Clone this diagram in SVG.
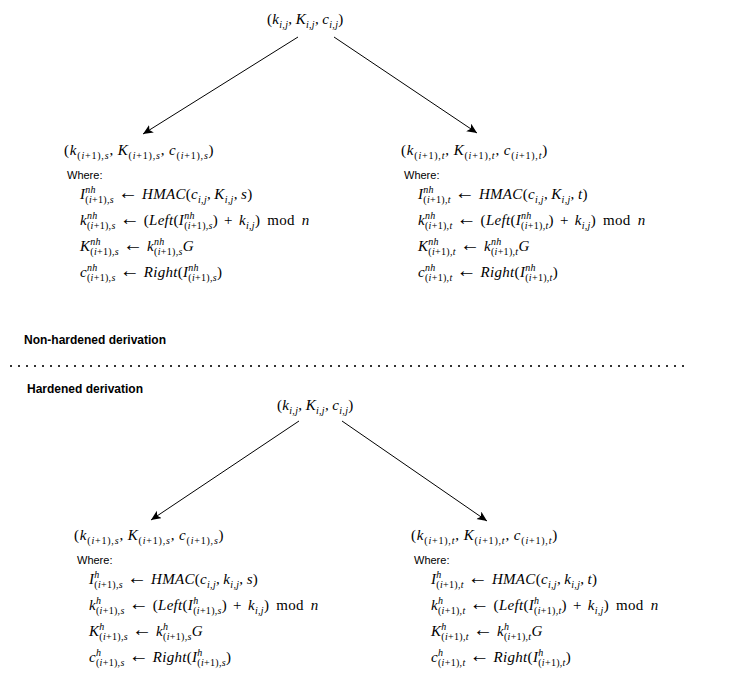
<svg xmlns="http://www.w3.org/2000/svg" width="734" height="684" viewBox="0 0 734 684">
  <style>
    .m { font-family: "Liberation Serif", "DejaVu Serif", serif; font-style: italic; font-size: 15px; letter-spacing: 0.3px; fill: #000; }
    .tt { letter-spacing: 0.8px; }
    .r { font-style: normal; }
    .s { font-size: 10px; }
    .op { word-spacing: 2px; }
    .md { word-spacing: 3px; }
    .ar { font-family: "Liberation Serif", serif; font-style: normal; font-size: 20px; letter-spacing: 0; }
    .w { font-family: "Liberation Sans", Arial, sans-serif; font-size: 11px; fill: #000; }
    .lbl { font-family: "Liberation Sans", Arial, sans-serif; font-size: 12px; font-weight: bold; fill: #000; }
    .edge { stroke: #000; stroke-width: 1; fill: none; marker-end: url(#ah); }
    .sep { stroke: #333; stroke-width: 2; stroke-dasharray: 2 6; fill: none; }
  </style>
  <defs>
    <marker id="ah" markerWidth="12" markerHeight="10" refX="10" refY="4.5" orient="auto" markerUnits="userSpaceOnUse">
      <path d="M0,0 L10,4.5 L0,9 L2.5,4.5 Z" fill="#000"/>
    </marker>
  </defs>
  <rect width="734" height="684" fill="#fff"/>

  <!-- connectors -->
  <g id="connectors">
    <line class="edge" x1="298" y1="37" x2="143" y2="134"/>
    <line class="edge" x1="334" y1="37" x2="477" y2="133"/>
    <line class="edge" x1="299" y1="421" x2="151" y2="520"/>
    <line class="edge" x1="342" y1="421" x2="487" y2="521"/>
  </g>

  <!-- non-hardened: parent key -->
  <g id="nh-parent">
    <text class="m" x="267" y="24"><tspan class="r">(</tspan>k<tspan class="s" dy="4">i<tspan class="r">,</tspan>j</tspan><tspan class="r" dy="-4">,&#8201;</tspan>K<tspan class="s" dy="4">i<tspan class="r">,</tspan>j</tspan><tspan class="r" dy="-4">,&#8201;</tspan>c<tspan class="s" dy="4">i<tspan class="r">,</tspan>j</tspan><tspan class="r" dy="-4">)</tspan></text>
  </g>

  <!-- non-hardened: child s -->
  <g id="nh-child-s">
    <text class="m tt" x="64" y="155"><tspan class="r">(</tspan>k<tspan class="s" dy="4"><tspan class="r">(</tspan>i<tspan class="r">+1),</tspan>s</tspan><tspan class="r" dy="-4">,&#8201;</tspan>K<tspan class="s" dy="4"><tspan class="r">(</tspan>i<tspan class="r">+1),</tspan>s</tspan><tspan class="r" dy="-4">,&#8201;</tspan>c<tspan class="s" dy="4"><tspan class="r">(</tspan>i<tspan class="r">+1),</tspan>s</tspan><tspan class="r" dy="-4">)</tspan></text>
    <text class="w" x="67" y="179">Where:</text>
    <text class="m" x="80" y="199">I<tspan class="s" dy="-6">nh</tspan><tspan class="s" dx="-10.6" dy="10"><tspan class="r">(</tspan>i<tspan class="r">+1),</tspan>s</tspan><tspan class="r" dy="-4"> </tspan><tspan class="ar">←</tspan><tspan class="r"> </tspan>HMAC<tspan class="r">(</tspan>c<tspan class="s" dy="4">i<tspan class="r">,</tspan>j</tspan><tspan class="r" dy="-4">,&#8201;</tspan>K<tspan class="s" dy="4">i<tspan class="r">,</tspan>j</tspan><tspan class="r" dy="-4">,&#8201;</tspan>s<tspan class="r">)</tspan></text>
    <text class="m" x="80" y="225">k<tspan class="s" dy="-6">nh</tspan><tspan class="s" dx="-10.6" dy="10"><tspan class="r">(</tspan>i<tspan class="r">+1),</tspan>s</tspan><tspan class="r" dy="-4"> </tspan><tspan class="ar">←</tspan><tspan class="r"> (</tspan>Left<tspan class="r">(</tspan>I<tspan class="s" dy="-6">nh</tspan><tspan class="s" dx="-10.6" dy="10"><tspan class="r">(</tspan>i<tspan class="r">+1),</tspan>s</tspan><tspan class="r op" dy="-4">) + </tspan>k<tspan class="s" dy="4">i<tspan class="r">,</tspan>j</tspan><tspan class="r md" dy="-4">) mod </tspan>n</text>
    <text class="m" x="80" y="251">K<tspan class="s" dy="-6">nh</tspan><tspan class="s" dx="-10.6" dy="10"><tspan class="r">(</tspan>i<tspan class="r">+1),</tspan>s</tspan><tspan class="r" dy="-4"> </tspan><tspan class="ar">←</tspan><tspan class="r"> </tspan>k<tspan class="s" dy="-6">nh</tspan><tspan class="s" dx="-10.6" dy="10"><tspan class="r">(</tspan>i<tspan class="r">+1),</tspan>s</tspan><tspan dy="-4">G</tspan></text>
    <text class="m" x="80" y="277">c<tspan class="s" dy="-6">nh</tspan><tspan class="s" dx="-10.6" dy="10"><tspan class="r">(</tspan>i<tspan class="r">+1),</tspan>s</tspan><tspan class="r" dy="-4"> </tspan><tspan class="ar">←</tspan><tspan class="r"> </tspan>Right<tspan class="r">(</tspan>I<tspan class="s" dy="-6">nh</tspan><tspan class="s" dx="-10.6" dy="10"><tspan class="r">(</tspan>i<tspan class="r">+1),</tspan>s</tspan><tspan class="r" dy="-4">)</tspan></text>
  </g>

  <!-- non-hardened: child t -->
  <g id="nh-child-t">
    <text class="m tt" x="401" y="155"><tspan class="r">(</tspan>k<tspan class="s" dy="4"><tspan class="r">(</tspan>i<tspan class="r">+1),</tspan>t</tspan><tspan class="r" dy="-4">,&#8201;</tspan>K<tspan class="s" dy="4"><tspan class="r">(</tspan>i<tspan class="r">+1),</tspan>t</tspan><tspan class="r" dy="-4">,&#8201;</tspan>c<tspan class="s" dy="4"><tspan class="r">(</tspan>i<tspan class="r">+1),</tspan>t</tspan><tspan class="r" dy="-4">)</tspan></text>
    <text class="w" x="404" y="179">Where:</text>
    <text class="m" x="418" y="199">I<tspan class="s" dy="-6">nh</tspan><tspan class="s" dx="-10.6" dy="10"><tspan class="r">(</tspan>i<tspan class="r">+1),</tspan>t</tspan><tspan class="r" dy="-4"> </tspan><tspan class="ar">←</tspan><tspan class="r"> </tspan>HMAC<tspan class="r">(</tspan>c<tspan class="s" dy="4">i<tspan class="r">,</tspan>j</tspan><tspan class="r" dy="-4">,&#8201;</tspan>K<tspan class="s" dy="4">i<tspan class="r">,</tspan>j</tspan><tspan class="r" dy="-4">,&#8201;</tspan>t<tspan class="r">)</tspan></text>
    <text class="m" x="418" y="225">k<tspan class="s" dy="-6">nh</tspan><tspan class="s" dx="-10.6" dy="10"><tspan class="r">(</tspan>i<tspan class="r">+1),</tspan>t</tspan><tspan class="r" dy="-4"> </tspan><tspan class="ar">←</tspan><tspan class="r"> (</tspan>Left<tspan class="r">(</tspan>I<tspan class="s" dy="-6">nh</tspan><tspan class="s" dx="-10.6" dy="10"><tspan class="r">(</tspan>i<tspan class="r">+1),</tspan>t</tspan><tspan class="r op" dy="-4">) + </tspan>k<tspan class="s" dy="4">i<tspan class="r">,</tspan>j</tspan><tspan class="r md" dy="-4">) mod </tspan>n</text>
    <text class="m" x="418" y="251">K<tspan class="s" dy="-6">nh</tspan><tspan class="s" dx="-10.6" dy="10"><tspan class="r">(</tspan>i<tspan class="r">+1),</tspan>t</tspan><tspan class="r" dy="-4"> </tspan><tspan class="ar">←</tspan><tspan class="r"> </tspan>k<tspan class="s" dy="-6">nh</tspan><tspan class="s" dx="-10.6" dy="10"><tspan class="r">(</tspan>i<tspan class="r">+1),</tspan>t</tspan><tspan dy="-4">G</tspan></text>
    <text class="m" x="418" y="277">c<tspan class="s" dy="-6">nh</tspan><tspan class="s" dx="-10.6" dy="10"><tspan class="r">(</tspan>i<tspan class="r">+1),</tspan>t</tspan><tspan class="r" dy="-4"> </tspan><tspan class="ar">←</tspan><tspan class="r"> </tspan>Right<tspan class="r">(</tspan>I<tspan class="s" dy="-6">nh</tspan><tspan class="s" dx="-10.6" dy="10"><tspan class="r">(</tspan>i<tspan class="r">+1),</tspan>t</tspan><tspan class="r" dy="-4">)</tspan></text>
  </g>

  <!-- section labels and separator -->
  <g id="sections">
    <text class="lbl" x="24" y="344">Non-hardened derivation</text>
    <line class="sep" x1="10" y1="366" x2="686" y2="366"/>
    <text class="lbl" x="27" y="393">Hardened derivation</text>
  </g>

  <!-- hardened: parent key -->
  <g id="h-parent">
    <text class="m" x="277" y="410"><tspan class="r">(</tspan>k<tspan class="s" dy="4">i<tspan class="r">,</tspan>j</tspan><tspan class="r" dy="-4">,&#8201;</tspan>K<tspan class="s" dy="4">i<tspan class="r">,</tspan>j</tspan><tspan class="r" dy="-4">,&#8201;</tspan>c<tspan class="s" dy="4">i<tspan class="r">,</tspan>j</tspan><tspan class="r" dy="-4">)</tspan></text>
  </g>

  <!-- hardened: child s -->
  <g id="h-child-s">
    <text class="m tt" x="74" y="540"><tspan class="r">(</tspan>k<tspan class="s" dy="4"><tspan class="r">(</tspan>i<tspan class="r">+1),</tspan>s</tspan><tspan class="r" dy="-4">,&#8201;</tspan>K<tspan class="s" dy="4"><tspan class="r">(</tspan>i<tspan class="r">+1),</tspan>s</tspan><tspan class="r" dy="-4">,&#8201;</tspan>c<tspan class="s" dy="4"><tspan class="r">(</tspan>i<tspan class="r">+1),</tspan>s</tspan><tspan class="r" dy="-4">)</tspan></text>
    <text class="w" x="77" y="564">Where:</text>
    <text class="m" x="89" y="584">I<tspan class="s" dy="-6">h</tspan><tspan class="s" dx="-5.3" dy="10"><tspan class="r">(</tspan>i<tspan class="r">+1),</tspan>s</tspan><tspan class="r" dy="-4"> </tspan><tspan class="ar">←</tspan><tspan class="r"> </tspan>HMAC<tspan class="r">(</tspan>c<tspan class="s" dy="4">i<tspan class="r">,</tspan>j</tspan><tspan class="r" dy="-4">,&#8201;</tspan>k<tspan class="s" dy="4">i<tspan class="r">,</tspan>j</tspan><tspan class="r" dy="-4">,&#8201;</tspan>s<tspan class="r">)</tspan></text>
    <text class="m" x="89" y="610">k<tspan class="s" dy="-6">h</tspan><tspan class="s" dx="-5.3" dy="10"><tspan class="r">(</tspan>i<tspan class="r">+1),</tspan>s</tspan><tspan class="r" dy="-4"> </tspan><tspan class="ar">←</tspan><tspan class="r"> (</tspan>Left<tspan class="r">(</tspan>I<tspan class="s" dy="-6">h</tspan><tspan class="s" dx="-5.3" dy="10"><tspan class="r">(</tspan>i<tspan class="r">+1),</tspan>s</tspan><tspan class="r op" dy="-4">) + </tspan>k<tspan class="s" dy="4">i<tspan class="r">,</tspan>j</tspan><tspan class="r md" dy="-4">) mod </tspan>n</text>
    <text class="m" x="89" y="636">K<tspan class="s" dy="-6">h</tspan><tspan class="s" dx="-5.3" dy="10"><tspan class="r">(</tspan>i<tspan class="r">+1),</tspan>s</tspan><tspan class="r" dy="-4"> </tspan><tspan class="ar">←</tspan><tspan class="r"> </tspan>k<tspan class="s" dy="-6">h</tspan><tspan class="s" dx="-5.3" dy="10"><tspan class="r">(</tspan>i<tspan class="r">+1),</tspan>s</tspan><tspan dy="-4">G</tspan></text>
    <text class="m" x="89" y="662">c<tspan class="s" dy="-6">h</tspan><tspan class="s" dx="-5.3" dy="10"><tspan class="r">(</tspan>i<tspan class="r">+1),</tspan>s</tspan><tspan class="r" dy="-4"> </tspan><tspan class="ar">←</tspan><tspan class="r"> </tspan>Right<tspan class="r">(</tspan>I<tspan class="s" dy="-6">h</tspan><tspan class="s" dx="-5.3" dy="10"><tspan class="r">(</tspan>i<tspan class="r">+1),</tspan>s</tspan><tspan class="r" dy="-4">)</tspan></text>
  </g>

  <!-- hardened: child t -->
  <g id="h-child-t">
    <text class="m tt" x="411" y="540"><tspan class="r">(</tspan>k<tspan class="s" dy="4"><tspan class="r">(</tspan>i<tspan class="r">+1),</tspan>t</tspan><tspan class="r" dy="-4">,&#8201;</tspan>K<tspan class="s" dy="4"><tspan class="r">(</tspan>i<tspan class="r">+1),</tspan>t</tspan><tspan class="r" dy="-4">,&#8201;</tspan>c<tspan class="s" dy="4"><tspan class="r">(</tspan>i<tspan class="r">+1),</tspan>t</tspan><tspan class="r" dy="-4">)</tspan></text>
    <text class="w" x="414" y="564">Where:</text>
    <text class="m" x="431" y="584">I<tspan class="s" dy="-6">h</tspan><tspan class="s" dx="-5.3" dy="10"><tspan class="r">(</tspan>i<tspan class="r">+1),</tspan>t</tspan><tspan class="r" dy="-4"> </tspan><tspan class="ar">←</tspan><tspan class="r"> </tspan>HMAC<tspan class="r">(</tspan>c<tspan class="s" dy="4">i<tspan class="r">,</tspan>j</tspan><tspan class="r" dy="-4">,&#8201;</tspan>k<tspan class="s" dy="4">i<tspan class="r">,</tspan>j</tspan><tspan class="r" dy="-4">,&#8201;</tspan>t<tspan class="r">)</tspan></text>
    <text class="m" x="431" y="610">k<tspan class="s" dy="-6">h</tspan><tspan class="s" dx="-5.3" dy="10"><tspan class="r">(</tspan>i<tspan class="r">+1),</tspan>t</tspan><tspan class="r" dy="-4"> </tspan><tspan class="ar">←</tspan><tspan class="r"> (</tspan>Left<tspan class="r">(</tspan>I<tspan class="s" dy="-6">h</tspan><tspan class="s" dx="-5.3" dy="10"><tspan class="r">(</tspan>i<tspan class="r">+1),</tspan>t</tspan><tspan class="r op" dy="-4">) + </tspan>k<tspan class="s" dy="4">i<tspan class="r">,</tspan>j</tspan><tspan class="r md" dy="-4">) mod </tspan>n</text>
    <text class="m" x="431" y="636">K<tspan class="s" dy="-6">h</tspan><tspan class="s" dx="-5.3" dy="10"><tspan class="r">(</tspan>i<tspan class="r">+1),</tspan>t</tspan><tspan class="r" dy="-4"> </tspan><tspan class="ar">←</tspan><tspan class="r"> </tspan>k<tspan class="s" dy="-6">h</tspan><tspan class="s" dx="-5.3" dy="10"><tspan class="r">(</tspan>i<tspan class="r">+1),</tspan>t</tspan><tspan dy="-4">G</tspan></text>
    <text class="m" x="431" y="662">c<tspan class="s" dy="-6">h</tspan><tspan class="s" dx="-5.3" dy="10"><tspan class="r">(</tspan>i<tspan class="r">+1),</tspan>t</tspan><tspan class="r" dy="-4"> </tspan><tspan class="ar">←</tspan><tspan class="r"> </tspan>Right<tspan class="r">(</tspan>I<tspan class="s" dy="-6">h</tspan><tspan class="s" dx="-5.3" dy="10"><tspan class="r">(</tspan>i<tspan class="r">+1),</tspan>t</tspan><tspan class="r" dy="-4">)</tspan></text>
  </g>
</svg>
